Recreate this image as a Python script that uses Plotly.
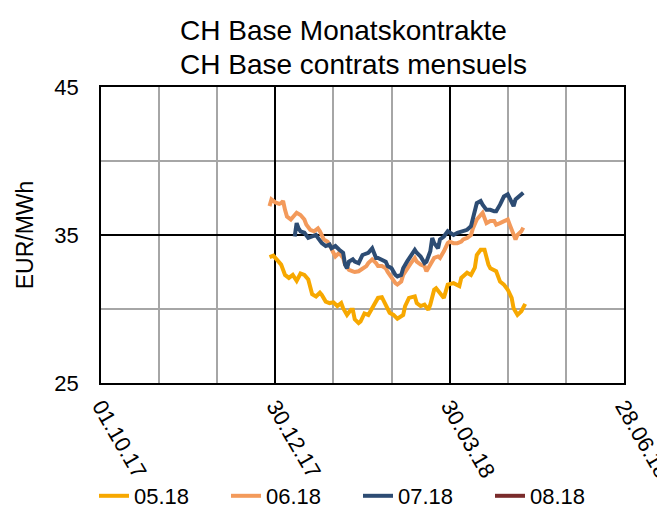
import plotly.graph_objects as go

title_lines = ["CH Base Monatskontrakte", "CH Base contrats mensuels"]
y_title = "EUR/MWh"
series_names = ["05.18", "06.18", "07.18", "08.18"]

dates_0518 = ["2017-12-27","2017-12-29","2017-12-31","2018-01-02","2018-01-04","2018-01-06","2018-01-08","2018-01-10","2018-01-12","2018-01-14",
              "2018-01-16","2018-01-18","2018-01-20","2018-01-22","2018-01-23","2018-01-25","2018-01-27","2018-01-29","2018-01-31","2018-02-02",
              "2018-02-03","2018-02-05","2018-02-07","2018-02-08","2018-02-09","2018-02-11","2018-02-12","2018-02-14","2018-02-16","2018-02-18",
              "2018-02-20","2018-02-21","2018-02-23","2018-02-25","2018-02-27","2018-03-01","2018-03-03","2018-03-06","2018-03-07","2018-03-09",
              "2018-03-12","2018-03-13","2018-03-15","2018-03-17","2018-03-19","2018-03-20","2018-03-22","2018-03-23","2018-03-25","2018-03-27",
              "2018-03-29","2018-04-01","2018-04-04","2018-04-05","2018-04-08","2018-04-10","2018-04-12","2018-04-13","2018-04-15","2018-04-17",
              "2018-04-19","2018-04-20","2018-04-23","2018-04-25","2018-04-27","2018-04-29","2018-05-01","2018-05-02","2018-05-04","2018-05-06",
              "2018-05-08"]
values_0518 = [33.5,33.6,33.3,33.0,32.3,32.1,32.3,31.9,32.4,32.3,
               32.0,31.0,30.85,31.1,30.95,30.5,30.4,30.45,30.2,30.4,
               30.05,29.6,29.95,29.95,29.3,29.05,29.15,29.7,29.6,30.05,
               30.4,30.75,30.8,30.3,29.75,29.6,29.35,29.6,30.2,30.75,
               30.85,30.4,30.2,30.3,29.95,30.3,31.3,31.4,31.1,30.75,
               31.65,31.75,31.55,32.1,32.45,32.3,32.8,33.65,34.0,34.0,
               33.0,32.75,32.55,31.85,31.65,31.3,30.75,30.05,29.6,29.85,
               30.35]

dates_0618 = ["2017-12-27","2017-12-28","2017-12-30","2018-01-01","2018-01-02","2018-01-03","2018-01-04","2018-01-05","2018-01-07","2018-01-09",
              "2018-01-10","2018-01-12","2018-01-14","2018-01-15","2018-01-17","2018-01-19","2018-01-21","2018-01-22","2018-01-24","2018-01-26",
              "2018-01-27","2018-01-29","2018-01-30","2018-02-01","2018-02-03","2018-02-04","2018-02-06","2018-02-08","2018-02-09","2018-02-11",
              "2018-02-13","2018-02-15","2018-02-16","2018-02-18","2018-02-20","2018-02-21","2018-02-23","2018-02-25","2018-02-26","2018-02-28",
              "2018-03-02","2018-03-03","2018-03-05","2018-03-06","2018-03-08","2018-03-10","2018-03-12","2018-03-13","2018-03-15","2018-03-17",
              "2018-03-18","2018-03-20","2018-03-22","2018-03-24","2018-03-25","2018-03-27","2018-03-29","2018-03-30","2018-04-01","2018-04-03",
              "2018-04-05","2018-04-06","2018-04-08","2018-04-10","2018-04-11","2018-04-13","2018-04-15","2018-04-16","2018-04-18","2018-04-20",
              "2018-04-22","2018-04-23","2018-04-25","2018-04-27","2018-04-29","2018-04-30","2018-05-02","2018-05-03","2018-05-04","2018-05-06",
              "2018-05-07"]
values_0618 = [36.95,37.4,37.2,37.1,37.15,37.3,36.7,36.25,36.05,36.35,
               36.5,36.35,36.05,35.7,35.35,35.25,35.45,35.25,34.7,34.55,
               34.35,33.8,33.55,33.8,33.45,33.0,32.65,32.55,32.5,32.55,
               32.75,32.9,33.1,33.35,33.1,32.9,32.9,32.75,32.5,32.1,
               31.75,31.65,31.85,32.3,32.75,33.1,33.45,33.2,33.0,32.9,
               32.55,33.0,33.45,33.55,33.45,33.9,34.45,34.55,34.45,34.45,
               34.55,34.7,34.8,35.0,35.45,36.05,36.35,36.5,35.8,35.95,
               35.95,35.7,35.8,35.95,36.05,35.7,34.9,34.7,35.0,35.25,
               35.5]

dates_0718 = ["2018-01-09","2018-01-10","2018-01-11","2018-01-12","2018-01-14","2018-01-15","2018-01-16","2018-01-18","2018-01-20","2018-01-21",
              "2018-01-23","2018-01-25","2018-01-27","2018-01-28","2018-01-30","2018-02-01","2018-02-03","2018-02-04","2018-02-05","2018-02-06",
              "2018-02-08","2018-02-09","2018-02-11","2018-02-13","2018-02-15","2018-02-16","2018-02-18","2018-02-20","2018-02-21","2018-02-23",
              "2018-02-25","2018-02-26","2018-02-28","2018-03-02","2018-03-03","2018-03-05","2018-03-06","2018-03-08","2018-03-10","2018-03-12",
              "2018-03-13","2018-03-15","2018-03-17","2018-03-18","2018-03-20","2018-03-21","2018-03-22","2018-03-24","2018-03-25","2018-03-27",
              "2018-03-29","2018-03-30","2018-04-01","2018-04-03","2018-04-05","2018-04-06","2018-04-08","2018-04-10","2018-04-11","2018-04-12",
              "2018-04-13","2018-04-15","2018-04-16","2018-04-18","2018-04-20","2018-04-22","2018-04-23","2018-04-25","2018-04-27","2018-04-29",
              "2018-04-30","2018-05-02","2018-05-03","2018-05-05","2018-05-07"]
values_0718 = [34.9,35.8,35.45,35.25,35.15,35.0,34.8,34.9,35.0,34.8,
               34.45,34.25,34.35,34.1,34.25,34.0,33.8,33.0,32.75,33.2,
               33.35,33.2,33.1,33.65,33.8,33.8,34.1,33.45,33.45,33.35,
               33.2,32.9,32.75,32.3,32.2,32.3,32.75,33.2,33.55,34.0,
               33.8,33.55,33.1,33.2,33.9,34.8,34.45,34.1,34.7,34.9,
               35.25,35.15,35.0,35.15,35.25,35.25,35.35,35.6,36.15,36.6,
               37.15,37.3,37.05,36.7,36.7,36.6,36.6,37.05,37.6,37.75,
               37.5,36.95,37.4,37.6,37.85]

dates_0818 = []
values_0818 = []

x_range = ["2017-10-01", "2018-06-28"]
y_range = [25, 45]

colors = ["#F7A800", "#F39A5B", "#2D4C73", "#7A2B2B"]
FONT = "Liberation Sans, Arial, sans-serif"
DAY_MS = 86400000

fig = go.Figure()
all_dates = [dates_0518, dates_0618, dates_0718, dates_0818]
all_vals = [values_0518, values_0618, values_0718, values_0818]
for name, d, v, c in zip(series_names, all_dates, all_vals, colors):
    if len(d) == 0:
        d, v = [None], [None]
    fig.add_trace(go.Scatter(x=d, y=v, mode="lines", name=name,
                             line=dict(color=c, width=4)))

# two-line title, left edges aligned as in the reference
title_y = [22, 56]
for txt, py in zip(title_lines, title_y):
    fig.add_annotation(text=txt, xref="paper", yref="paper",
                       x=(170 - 93) / 523, y=1 + (79 - py) / 296,
                       xanchor="left", yanchor="middle", showarrow=False,
                       font=dict(size=28, color="#000000", family=FONT))

fig.update_layout(
    width=665, height=525,
    margin=dict(l=93, r=49, t=79, b=150),
    paper_bgcolor="white", plot_bgcolor="white",
    font=dict(family=FONT, size=22, color="#000000"),
    legend=dict(orientation="h", x=(86 - 93) / 523, xanchor="left",
                y=-(488 - 375) / 296, yanchor="middle",
                font=dict(size=22), entrywidth=87, entrywidthmode="pixels",
                tracegroupgap=0, bgcolor="rgba(0,0,0,0)"),
    showlegend=True,
)

fig.update_xaxes(
    type="date", range=x_range, automargin=False,
    tickmode="linear", tick0=x_range[0], dtick=90 * DAY_MS,
    tickformat="%d.%m.%y", tickangle=60, ticklabeloverflow="allow",
    showgrid=True, gridcolor="#000000", gridwidth=1.5,
    minor=dict(tickmode="linear", tick0=x_range[0], dtick=30 * DAY_MS,
               showgrid=True, gridcolor="#A6A6A6", gridwidth=1.5),
    showline=True, linecolor="#000000", linewidth=1.5, mirror=True,
    ticks="", zeroline=False,
)
fig.update_yaxes(
    range=y_range, automargin=False, tickmode="linear", tick0=25, dtick=10,
    showgrid=True, gridcolor="#000000", gridwidth=1.5,
    minor=dict(tickmode="linear", tick0=25, dtick=5,
               showgrid=True, gridcolor="#A6A6A6", gridwidth=1.5),
    showline=True, linecolor="#000000", linewidth=1.5, mirror=True,
    ticks="", ticklabelstandoff=16, zeroline=False,
    title=dict(text=y_title, standoff=14, font=dict(size=23)),
)

fig.write_html("out.html")
